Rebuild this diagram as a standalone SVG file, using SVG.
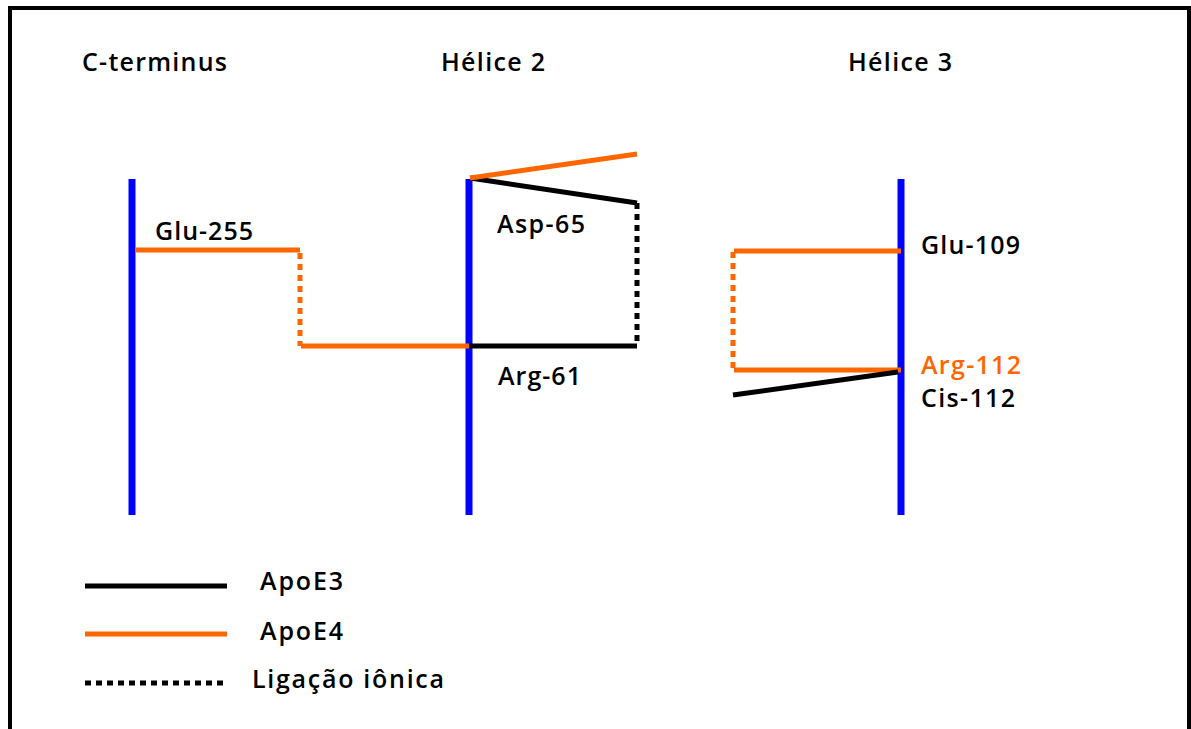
<svg xmlns="http://www.w3.org/2000/svg" width="1191" height="729" viewBox="0 0 1191 729">
<style>
text{font-family:"Open Sans","Liberation Sans",sans-serif;font-size:25px;font-weight:600;fill:#000}
.o{fill:#ff6600}
.helix{stroke:#0000ff;stroke-width:7;fill:none}
.e3{stroke:#000;stroke-width:5;fill:none}
.e4{stroke:#ff6600;stroke-width:5;fill:none}
.ion{stroke-width:5;fill:none;stroke-dasharray:6 5}
</style>
<rect width="1191" height="729" fill="#fff"/>
<path d="M10,729 V8 H1189 V729" fill="none" stroke="#000" stroke-width="4"/>
<line x1="1189" y1="8" x2="1189" y2="729" stroke="#000" stroke-width="2"/>
<g id="cterm">
<line class="helix" x1="132" y1="179" x2="132" y2="515"/>
<text x="82" y="71" textLength="145" lengthAdjust="spacing">C-terminus</text>
<text x="155" y="240" textLength="98" lengthAdjust="spacing">Glu-255</text>
</g>
<g id="helix2">
<line class="helix" x1="469" y1="179" x2="469" y2="515"/>
<text x="441" y="71" textLength="104" lengthAdjust="spacing">Hélice 2</text>
<text x="497" y="233" textLength="88" lengthAdjust="spacing">Asp-65</text>
<text x="498" y="385" textLength="83" lengthAdjust="spacing">Arg-61</text>
</g>
<g id="helix3">
<line class="helix" x1="901" y1="179" x2="901" y2="515"/>
<text x="848" y="71" textLength="104" lengthAdjust="spacing">Hélice 3</text>
<text x="921" y="254" textLength="99" lengthAdjust="spacing">Glu-109</text>
<text x="921" y="374" class="o" textLength="100" lengthAdjust="spacing">Arg-112</text>
<text x="921" y="407" textLength="94" lengthAdjust="spacing">Cis-112</text>
</g>
<g id="connectors">
<line class="e4" x1="136" y1="250" x2="300" y2="250"/>
<line class="e4 ion" x1="300" y1="253" x2="300" y2="346"/>
<line class="e4" x1="301" y1="346" x2="469" y2="346"/>
<line class="e3" x1="470" y1="346" x2="637" y2="346"/>
<line class="e3 ion" x1="637" y1="203" x2="637" y2="346"/>
<line class="e3" x1="470" y1="178" x2="637" y2="203"/>
<line class="e4" x1="470" y1="178" x2="637" y2="154"/>
<line class="e4" x1="734" y1="251" x2="901" y2="251"/>
<line class="e4 ion" x1="733" y1="252" x2="733" y2="370"/>
<line class="e4" x1="734" y1="370" x2="901" y2="370"/>
<line class="e3" x1="733" y1="395" x2="898" y2="372"/>
</g>
<g id="legend">
<line class="e3" x1="85" y1="586" x2="227" y2="586"/>
<line class="e4" x1="85" y1="634" x2="227" y2="634"/>
<line class="e3 ion" x1="85" y1="683" x2="227" y2="683"/>
<text x="260" y="590" textLength="83" lengthAdjust="spacing">ApoE3</text>
<text x="260" y="640" textLength="83" lengthAdjust="spacing">ApoE4</text>
<text x="252" y="688" textLength="192" lengthAdjust="spacing">Ligação iônica</text>
</g>
</svg>
